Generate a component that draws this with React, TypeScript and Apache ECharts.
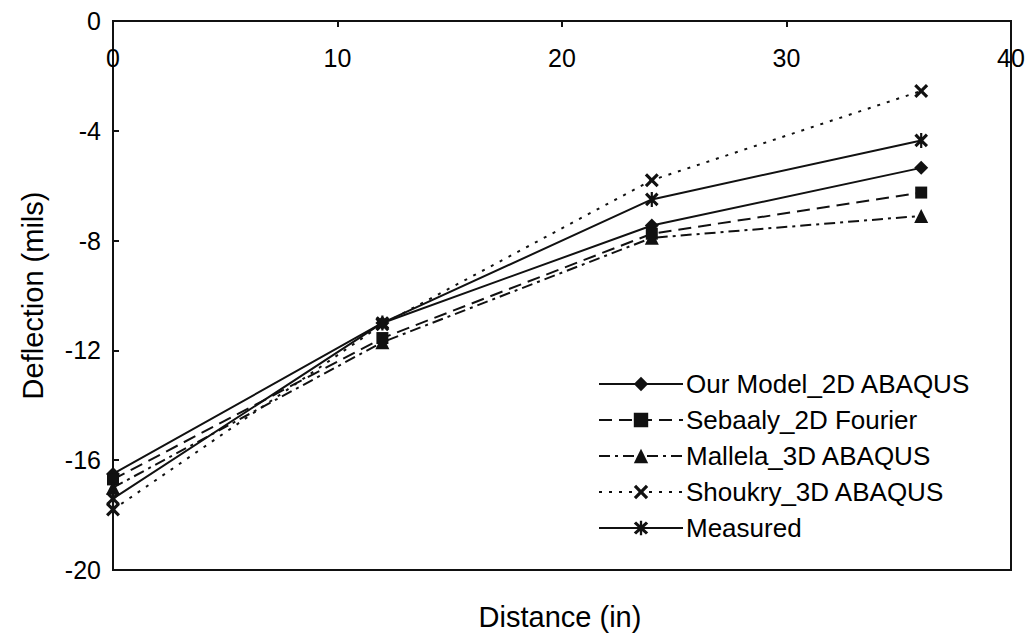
import React, { useEffect, useRef } from "react";
import * as echarts from "echarts";

const distances = [0, 12, 24, 36];
const ourModel = [-16.5, -11.0, -7.45, -5.35];
const sebaaly = [-16.7, -11.55, -7.75, -6.25];
const mallela = [-17.0, -11.7, -7.9, -7.1];
const shoukry = [-17.8, -11.05, -5.8, -2.55];
const measured = [-17.4, -11.0, -6.5, -4.35];
const seriesNames = [
  "Our Model_2D ABAQUS",
  "Sebaaly_2D Fourier",
  "Mallela_3D ABAQUS",
  "Shoukry_3D ABAQUS",
  "Measured",
];

const X_PATH =
  "path://M0,1.6 L1.6,0 L5,3.4 L8.4,0 L10,1.6 L6.6,5 L10,8.4 L8.4,10 L5,6.6 L1.6,10 L0,8.4 L3.4,5 Z";
const STAR_PATH =
  "path://M0,1.6 L1.6,0 L5,3.4 L8.4,0 L10,1.6 L6.6,5 L10,8.4 L8.4,10 L5,6.6 L1.6,10 L0,8.4 L3.4,5 Z M4.2,-0.5 L5.8,-0.5 L5.8,10.5 L4.2,10.5 Z";

const FONT = "'Liberation Sans', Arial, sans-serif";

export default function App() {
  const ref = useRef<HTMLDivElement>(null);
  useEffect(() => {
    if (!ref.current) return;
    const chart = echarts.init(ref.current, undefined, { renderer: "svg" });
    const pair = (ys: number[]) => distances.map((x, i) => [x, ys[i]]);
    const black = "#111";
    const mk = (
      name: string,
      ys: number[],
      symbol: string,
      size: number,
      type: any
    ) => ({
      name,
      type: "line",
      data: pair(ys),
      symbol,
      symbolSize: size,
      symbolKeepAspect: true,
      lineStyle: { color: black, width: 2, type },
      itemStyle: { color: black, borderColor: black, borderWidth: 0 },
      emphasis: { disabled: true },
    });
    chart.setOption({
      animation: false,
      textStyle: { fontFamily: FONT, color: "#000" },
      grid: {
        left: 113,
        top: 21,
        width: 898,
        height: 549,
        show: true,
        borderColor: black,
        borderWidth: 2,
        backgroundColor: "transparent",
      },
      xAxis: {
        type: "value",
        position: "top",
        min: 0,
        max: 40,
        interval: 10,
        axisLine: { show: true, lineStyle: { color: black, width: 2 } },
        axisTick: { show: true, inside: true, length: 6, lineStyle: { color: black, width: 2 } },
        axisLabel: {
          inside: true,
          margin: 24,
          fontSize: 25,
          color: "#000",
          fontFamily: FONT,
          showMinLabel: true,
          showMaxLabel: true,
        },
        splitLine: { show: false },
      },
      yAxis: {
        type: "value",
        min: -20,
        max: 0,
        interval: 4,
        name: "Deflection (mils)",
        nameLocation: "middle",
        nameGap: 66,
        nameRotate: 90,
        nameTextStyle: { fontSize: 29, color: "#000", fontFamily: FONT },
        axisLine: { show: true, lineStyle: { color: black, width: 2 } },
        axisTick: { show: true, inside: true, length: 6, lineStyle: { color: black, width: 2 } },
        axisLabel: { margin: 12, fontSize: 25, color: "#000", fontFamily: FONT },
        splitLine: { show: false },
      },
      legend: {
        orient: "vertical",
        left: 593,
        top: 366,
        itemWidth: 84,
        itemHeight: 18,
        itemGap: 10,
        textStyle: { fontSize: 26, color: "#000", fontFamily: FONT, padding: [0, 0, 0, -2] },
        data: seriesNames,
        selectedMode: false,
      },
      graphic: [
        {
          type: "text",
          x: 560,
          y: 617,
          style: {
            text: "Distance (in)",
            font: `29px ${FONT}`,
            fill: "#000",
            textAlign: "center",
            textVerticalAlign: "middle",
          },
        },
      ],
      series: [
        mk(seriesNames[0], ourModel, "diamond", 14, "solid"),
        mk(seriesNames[1], sebaaly, "rect", 12, [13, 7]),
        mk(seriesNames[2], mallela, "triangle", 14, [11, 5, 3, 5]),
        mk(seriesNames[3], shoukry, X_PATH, 14, [3, 7]),
        mk(seriesNames[4], measured, STAR_PATH, 15, "solid"),
      ],
    });
    return () => chart.dispose();
  }, []);
  return (
    <div
      ref={ref}
      style={{ position: "fixed", left: 0, top: 0, width: 1029, height: 640, background: "#fff" }}
    />
  );
}
